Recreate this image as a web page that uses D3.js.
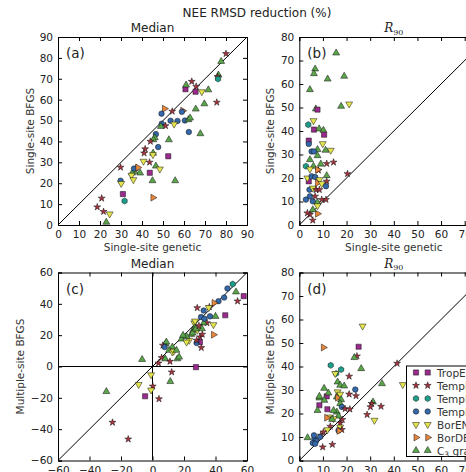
<!DOCTYPE html>
<html>
<head>
<meta charset="utf-8">
<script src="https://cdn.jsdelivr.net/npm/d3@7"></script>
<style>
  body { margin: 0; background: #fff; }
  svg { display: block; font-family: 'DejaVu Sans', sans-serif; }
</style>
</head>
<body>
<svg id="chart" width="466" height="472"></svg>
<script>
// Vegetation types (legend order)
const categories = ['TropEBF', 'TempENF', 'TempEBF', 'TempDBF', 'BorENF', 'BorDBF', 'C3 grass']
const colors = ['#9a2a8c', '#a8343e', '#1b9e8a', '#3568a8', '#e4e44c', '#e8863c', '#5aa44a']

// Points: [x, y, category index]
const panelA = [
  [80, 82, 1], [77.7, 78.3, 6], [76.4, 71.8, 6], [76, 71, 1], [76.2, 69.9, 2], [60.7, 65, 0],
  [61, 67, 6], [63.7, 68.7, 1], [65.8, 66.3, 1], [65.5, 63.8, 0], [71.6, 64.7, 6], [68.5, 63.8, 4],
  [75.6, 58.7, 1], [69.7, 58, 6], [65.6, 55.5, 6], [54.4, 54.4, 1], [59.4, 54.7, 5], [59, 54.2, 3],
  [50.7, 55.7, 5], [49.3, 53.3, 3], [53.6, 49.9, 3], [56.9, 49.8, 3], [60.4, 50, 3], [62.1, 50.4, 6],
  [62.9, 51.2, 6], [55.3, 48.3, 4], [49.4, 48.5, 3], [51.2, 47.5, 1], [49, 47.2, 6], [62.3, 44.5, 3],
  [67.8, 43.7, 6], [46.6, 43.5, 3], [46.1, 41.8, 6], [45.4, 40.8, 6], [44, 40, 1], [52.8, 40.8, 6],
  [41.5, 36.4, 1], [47.7, 37.3, 3], [41, 34.4, 1], [45.3, 34.4, 6], [45.2, 33.7, 4], [52.5, 32.9, 0],
  [46.6, 28.2, 6], [48.5, 26.8, 4], [43.6, 30, 1], [40.7, 30.5, 4], [43.7, 25, 0], [45, 21.2, 6],
  [55.8, 21.2, 6], [29.8, 27.6, 1], [29.8, 21.2, 3], [30.1, 19.9, 4], [37.2, 27.3, 1], [36.4, 25.7, 6],
  [35.3, 24.9, 6], [35, 23.8, 4], [35.9, 21.7, 4], [39.1, 24.9, 6], [36.2, 27, 3], [38, 27.5, 5],
  [30.9, 14.8, 0], [31.7, 11.5, 2], [45.2, 13.1, 5], [20.8, 12.8, 1], [18.7, 8.6, 1], [21.7, 6.4, 1],
  [24.6, 5.3, 4], [23, 1.3, 6]
]

const panelB = [
  [15.6, 73.2, 6], [6.7, 66.4, 6], [6.2, 64.4, 6], [12, 62.1, 6], [19, 63.3, 6], [4.5, 57.6, 6],
  [21.1, 51.5, 4], [17.7, 50.5, 6], [7, 49.4, 6], [7.7, 49.1, 0], [6, 44.4, 4], [3.8, 42.7, 2],
  [6.2, 40.6, 0], [8.4, 40.9, 6], [10.2, 40.3, 6], [10.5, 38.4, 0], [9.9, 34.6, 4], [4, 35.9, 0],
  [4, 34.5, 3], [7.7, 32.1, 6], [13.3, 31.8, 4], [11.1, 31.8, 6], [5.2, 31.3, 3], [6.2, 31.3, 3],
  [7.7, 29.5, 6], [4.5, 27.8, 6], [9.1, 25.9, 6], [11.6, 26.1, 1], [14.5, 26.7, 1], [2.8, 25, 2],
  [6, 25, 6], [4.5, 23.8, 4], [8.1, 23.3, 1], [7.7, 23.5, 5], [4, 18.6, 0], [3.4, 20, 4],
  [11.6, 21, 6], [5.2, 20.7, 3], [6.7, 20.4, 3], [8.5, 19.3, 4], [11.6, 18.6, 1], [7.7, 17.9, 5],
  [9.5, 17.6, 4], [11.3, 16.5, 3], [4.3, 15, 3], [5.7, 15.7, 4], [7.1, 15, 1], [8.5, 15, 1],
  [20.4, 21.8, 1], [2.8, 10.8, 3], [5.7, 10.1, 3], [7.7, 9.6, 6], [9.5, 10.8, 1], [11.3, 10.8, 1],
  [4.5, 12.2, 3], [6.7, 12.2, 1], [4.5, 4.4, 1], [5.7, 2, 1], [7.7, 4.8, 5], [5.7, 6.5, 6],
  [3.4, 5.1, 1], [7.7, 8.2, 4]
]

const panelC = [
  [47.6, 49.8, 3], [50.9, 52.6, 2], [53, 47.6, 6], [54, 41.7, 1], [45.5, 44, 3], [41.9, 41.7, 3],
  [39.1, 40.6, 5], [36.1, 38, 1], [35.7, 37.6, 4], [32.5, 35.7, 3], [36.5, 32, 3], [30.8, 31.6, 3],
  [28.4, 37.4, 1], [46.2, 32.7, 0], [40, 32, 6], [38.7, 26.7, 4], [38.7, 20.3, 5], [34.6, 27.8, 1],
  [32.5, 27.8, 6], [31, 12, 1], [30.1, 15.6, 0], [28, 15, 3], [28, 16.7, 1], [26.5, 27.8, 4],
  [26.9, 25.2, 6], [25.9, 23.1, 6], [28.4, 23.1, 4], [30.1, 18.8, 1], [31.6, 20.5, 1], [31.4, 24.1, 6],
  [24.6, 20.5, 6], [23.3, 16.7, 4], [25.4, 21.4, 6], [21.6, 19.2, 6], [18.4, 17.5, 6], [19.4, 19.9, 6],
  [21.6, 15.6, 4], [8.3, 14.5, 6], [8.8, 15.6, 6], [12.6, 12.4, 6], [6.6, 13.5, 1], [7.7, 12.4, 3],
  [10.5, 10.3, 6], [12.6, 9.2, 4], [13.5, 9.8, 4], [15.2, 10.3, 6], [15.8, 4.9, 6], [16.9, 6, 6],
  [5.8, 5.6, 1], [8.1, 4.9, 6], [-6.6, 4.5, 6], [3.8, 2.1, 1], [11.1, 3.2, 1], [12.2, -3.6, 1],
  [27.6, -0.4, 0], [11.3, -9.6, 6], [-0.9, -5.3, 4], [-8.8, -11.5, 4], [0.2, -12.6, 1], [-0.9, -15, 4],
  [-4.7, -19, 0], [4.1, -20.7, 1], [-29.3, -16, 6], [-25.4, -35.7, 1], [-15.4, -46.4, 1], [57.9, 44.9, 0],
  [27, 29, 4], [27.5, 24, 6], [33, 30.5, 3], [29.5, 26, 1]
]

const panelD = [
  [26.8, 57.2, 4], [10.2, 48.1, 5], [25.1, 48.4, 0], [24.4, 44.4, 1], [23.3, 43.8, 6], [41.4, 41.3, 1],
  [13.3, 40.5, 2], [17.7, 38.7, 2], [15.6, 37, 2], [26.2, 39.1, 6], [21.1, 35.8, 1], [15.2, 37, 4],
  [16.2, 33.4, 6], [17.3, 32, 6], [19, 31.7, 6], [11.6, 27.3, 0], [8.5, 23.5, 0], [11.9, 21.8, 0],
  [10.5, 30.7, 6], [12.3, 28.7, 6], [8.5, 26.6, 6], [8.5, 27.3, 6], [21.1, 28.2, 1], [24, 27.5, 1],
  [23.7, 30.2, 3], [35, 32.7, 6], [43.8, 32.3, 4], [31.2, 24.9, 6], [30.6, 24.2, 1], [34.6, 23, 1],
  [30.1, 22.8, 1], [28.7, 19.5, 1], [31.8, 17.1, 4], [16.2, 29.2, 4], [15.9, 27, 6], [16.2, 26.7, 5],
  [17.3, 28.2, 4], [17.7, 25.9, 6], [17.3, 24.2, 6], [18, 22.8, 3], [19.4, 22, 1], [21.4, 21.8, 1],
  [15.9, 20.6, 6], [14.5, 21.3, 6], [16.6, 18.9, 6], [13, 18.5, 4], [11.6, 18.2, 5], [14.5, 17.8, 4],
  [13.9, 17.5, 6], [17.3, 15.9, 1], [18.2, 17.4, 1], [17.3, 14.2, 4], [18, 13.1, 1], [16.6, 12.8, 3],
  [16.8, 12.6, 5], [13.1, 14.5, 1], [11.9, 13.1, 4], [10.2, 12.1, 1], [9.1, 10.7, 1], [6.4, 9.2, 3],
  [8.8, 10, 3], [7.1, 8.3, 3], [5.7, 7.4, 3], [6.7, 7.1, 3], [6.2, 10.7, 3], [3.5, 9.7, 6],
  [9.9, 5.7, 1], [14, 6.8, 1], [7.7, 21.3, 6], [10.6, 25.6, 6]
]

const ticksA = d3.range(0, 91, 10)
const ticksB = d3.range(0, 81, 10)
const ticksC = d3.range(-60, 61, 20)

const svg = d3.select('#chart')

// Marker shapes, one per category
const hexagon = {
  draw (ctx, size) {
    const r = Math.sqrt(size / 2.598)
    for (let i = 0; i < 6; i++) {
      const a = Math.PI / 6 + i * Math.PI / 3
      if (i === 0) ctx.moveTo(r * Math.cos(a), r * Math.sin(a))
      else ctx.lineTo(r * Math.cos(a), r * Math.sin(a))
    }
    ctx.closePath()
  }
}
const shapes = [
  { type: d3.symbolSquare, size: 27, rot: 0 },
  { type: d3.symbolStar, size: 15, rot: 0 },
  { type: hexagon, size: 24, rot: 0 },
  { type: d3.symbolCircle, size: 24, rot: 0 },
  { type: d3.symbolTriangle, size: 21, rot: 180 },
  { type: d3.symbolTriangle, size: 21, rot: 90 },
  { type: d3.symbolTriangle, size: 21, rot: 0 }
]

function drawMarker (g, x, y, c) {
  const s = shapes[c]
  g.append('path')
    .attr('d', d3.symbol().type(s.type).size(s.size)())
    .attr('transform', `translate(${x},${y}) rotate(${s.rot})`)
    .attr('fill', colors[c])
    .attr('stroke', '#111')
    .attr('stroke-width', 0.5)
}

/**
 * Draws one scatter panel with its frame, inward ticks and 1:1 line.
 */
function panel (opt) {
  const x = d3.scaleLinear().domain(opt.domain).range([opt.left, opt.left + 189])
  const y = d3.scaleLinear().domain(opt.domain).range([opt.top + 188, opt.top])
  const g = svg.append('g')

  // Clip region so marks stay inside the axes
  const id = 'clip' + opt.tag
  svg.append('clipPath').attr('id', id)
    .append('rect')
    .attr('x', opt.left).attr('y', opt.top).attr('width', 189).attr('height', 188)

  const inner = g.append('g').attr('clip-path', `url(#${id})`)

  // Zero lines (panel c only)
  if (opt.zero) {
    inner.append('line').attr('x1', x(0)).attr('x2', x(0)).attr('y1', opt.top).attr('y2', opt.top + 188)
      .attr('stroke', '#000').attr('stroke-width', 1)
    inner.append('line').attr('x1', opt.left).attr('x2', opt.left + 189).attr('y1', y(0)).attr('y2', y(0))
      .attr('stroke', '#000').attr('stroke-width', 1)
  }

  // 1:1 line
  inner.append('line')
    .attr('x1', x(opt.domain[0])).attr('y1', y(opt.domain[0]))
    .attr('x2', x(opt.domain[1])).attr('y2', y(opt.domain[1]))
    .attr('stroke', '#000').attr('stroke-width', 1)

  opt.data.forEach(d => drawMarker(inner, x(d[0]), y(d[1]), d[2]))

  // Axes with inward ticks on all sides
  const fmt = v => d3.format('d')(v).replace('-', '\u2212')
  const bottom = g.append('g').attr('transform', `translate(0,${opt.top + 188})`)
    .call(d3.axisBottom(x).tickValues(opt.ticks).tickSize(-4).tickPadding(6).tickFormat(fmt))
  const left = g.append('g').attr('transform', `translate(${opt.left},0)`)
    .call(d3.axisLeft(y).tickValues(opt.ticks).tickSize(-4).tickPadding(5).tickFormat(fmt))
  g.append('g').attr('transform', `translate(0,${opt.top})`)
    .call(d3.axisTop(x).tickValues(opt.ticks).tickSize(-4).tickFormat(''))
  g.append('g').attr('transform', `translate(${opt.left + 189},0)`)
    .call(d3.axisRight(y).tickValues(opt.ticks).tickSize(-4).tickFormat(''))

  g.selectAll('.domain').attr('stroke', '#000')
  g.selectAll('.tick line').attr('stroke', '#000')
  ;[bottom, left].forEach(a => a.selectAll('text')
    .attr('font-size', 10.5).attr('fill', '#222').attr('font-family', 'DejaVu Sans'))

  // Panel letter
  g.append('text').attr('x', opt.left + 8).attr('y', opt.top + 21)
    .attr('font-size', 13.5).attr('fill', '#222').text(opt.letter)

  // Axis labels
  g.append('text')
    .attr('transform', `translate(${opt.ylabelX},${opt.top + 94}) rotate(-90)`)
    .attr('text-anchor', 'middle').attr('font-size', 10.5).attr('fill', '#333')
    .text(opt.ylabel)
  if (opt.xlabel) {
    g.append('text').attr('x', opt.left + 94.5).attr('y', opt.top + 214)
      .attr('text-anchor', 'middle').attr('font-size', 10.5).attr('fill', '#333')
      .text(opt.xlabel)
  }

  // Panel title
  if (opt.title === 'R90') {
    const t = g.append('text').attr('x', opt.left + 94.5).attr('y', opt.top - 5)
      .attr('text-anchor', 'middle').attr('fill', '#222')
    t.append('tspan').attr('font-family', 'DejaVu Serif').attr('font-style', 'italic')
      .attr('font-size', 12).text('R')
    t.append('tspan').attr('font-family', 'DejaVu Serif').attr('font-size', 8)
      .attr('dy', 2.5).text('90')
  } else {
    g.append('text').attr('x', opt.left + 94.5).attr('y', opt.top - 5)
      .attr('text-anchor', 'middle').attr('font-size', 12).attr('fill', '#222')
      .text(opt.title)
  }
}

panel({ tag: 'a', data: panelA, domain: [0, 90], ticks: ticksA, left: 58, top: 37, letter: '(a)',
  title: 'Median', ylabel: 'Single-site BFGS', ylabelX: 34, xlabel: 'Single-site genetic' })
panel({ tag: 'b', data: panelB, domain: [0, 80], ticks: ticksB, left: 299.3, top: 37, letter: '(b)',
  title: 'R90', ylabel: 'Single-site BFGS', ylabelX: 274, xlabel: 'Single-site genetic' })
panel({ tag: 'c', data: panelC, domain: [-60, 60], ticks: ticksC, left: 58, top: 272.5, letter: '(c)',
  title: 'Median', ylabel: 'Multiple-site BFGS', ylabelX: 24, zero: true })
panel({ tag: 'd', data: panelD, domain: [0, 80], ticks: ticksB, left: 299.3, top: 272.5, letter: '(d)',
  title: 'R90', ylabel: 'Multiple-site BFGS', ylabelX: 274 })

// Figure title
svg.append('text').attr('x', 257).attr('y', 17)
  .attr('text-anchor', 'middle').attr('font-size', 12).attr('fill', '#222')
  .text('NEE RMSD reduction (%)')

// Legend in panel (d), lower right
const legend = svg.append('g')
legend.append('rect').attr('x', 406.5).attr('y', 366).attr('width', 90).attr('height', 90.5)
  .attr('fill', '#fff').attr('stroke', '#000').attr('stroke-width', 1)
categories.forEach((name, i) => {
  const yy = 372.5 + i * 13
  drawMarker(legend, 416, yy, i)
  drawMarker(legend, 427.7, yy, i)
  const t = legend.append('text').attr('x', 437).attr('y', yy + 4)
    .attr('font-size', 10.5).attr('fill', '#333')
  if (name === 'C3 grass') {
    t.append('tspan').text('C')
    t.append('tspan').attr('font-size', 7.5).attr('dy', 2).text('3')
    t.append('tspan').attr('dy', -2).text(' grass')
  } else {
    t.text(name)
  }
})
</script>
</body>
</html>
